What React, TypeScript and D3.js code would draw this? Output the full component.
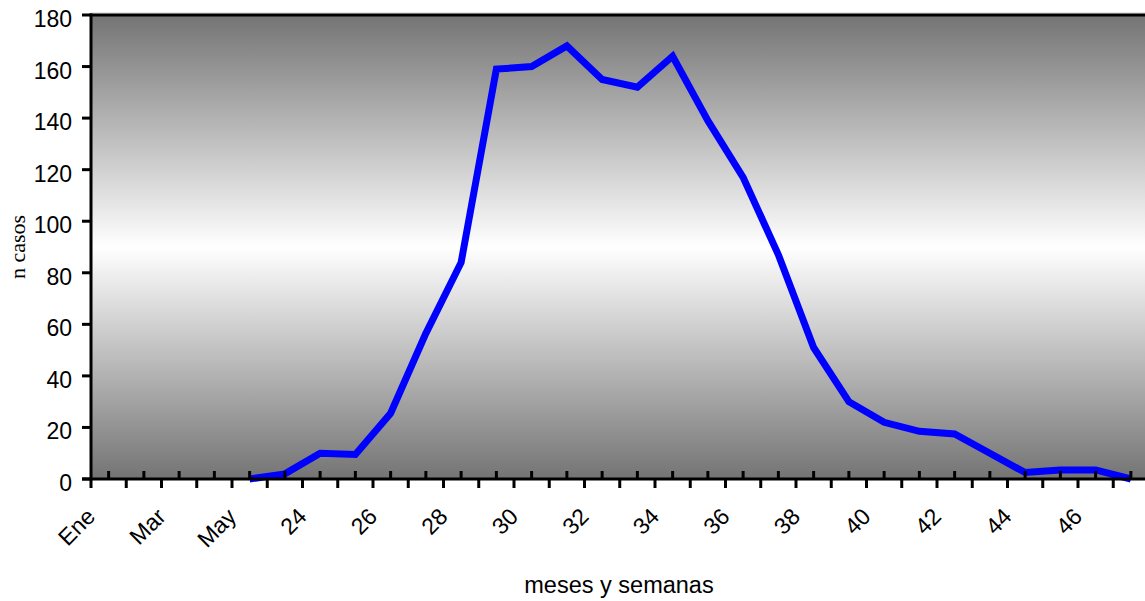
import React from "react";
import * as d3 from "d3";

const categories: string[] = [
  "Ene", "Feb", "Mar", "Abr", "May", "23", "24", "25", "26", "27",
  "28", "29", "30", "31", "32", "33", "34", "35", "36", "37",
  "38", "39", "40", "41", "42", "43", "44", "45", "46", "47",
];
const labelEvery: string[] = ["Ene", "Mar", "May", "24", "26", "28", "30", "32", "34", "36", "38", "40", "42", "44", "46"];
// null = no value in that category
const casos: (number | null)[] = [
  null, null, null, null, 0, 2, 10, 9.5, 25.5, 56.5,
  84, 159, 160, 168, 155, 152, 164, 139, 117, 87,
  51, 30, 22, 18.5, 17.5, 10, 2.5, 3.5, 3.5, 0,
];
const yTicks: number[] = [0, 20, 40, 60, 80, 100, 120, 140, 160, 180];

const W = 1145;
const H = 601;
const left = 91;
const top = 15;
const bottom = 479;
const step = 35.25;
const right = left + step * categories.length;

export default function App() {
  const x = d3.scaleBand<string>().domain(categories).range([left, right]).padding(0);
  const y = d3.scaleLinear().domain([0, 180]).range([bottom, top]);
  const cx = (c: string) => (x(c) as number) + x.bandwidth() / 2;

  const pts = categories
    .map((c, i) => ({ c, v: casos[i] }))
    .filter((d) => d.v !== null) as { c: string; v: number }[];
  const line = d3
    .line<{ c: string; v: number }>()
    .x((d) => cx(d.c))
    .y((d) => y(d.v));

  const font = "'Liberation Sans', Arial, sans-serif";

  return (
    <svg
      width={W}
      height={H}
      style={{ position: "fixed", left: 0, top: 0, background: "#fff" }}
    >
      <defs>
        <linearGradient id="bg" x1="0" y1="0" x2="0" y2="1">
          <stop offset="0" stopColor="#747474" />
          <stop offset="0.5" stopColor="#ffffff" />
          <stop offset="1" stopColor="#747474" />
        </linearGradient>
      </defs>
      <rect x={left} y={top} width={right - left} height={bottom - top} fill="url(#bg)" />
      {/* top border */}
      <line x1={left} x2={right} y1={top - 2} y2={top - 2} stroke="#cfcfcf" strokeWidth={1} />
      <line x1={left - 1.5} x2={right} y1={top} y2={top} stroke="#000" strokeWidth={3} />

      {/* data line */}
      <path
        d={line(pts) || ""}
        fill="none"
        stroke="#0000ff"
        strokeWidth={7}
        strokeLinejoin="miter"
        strokeMiterlimit={4}
      />

      {/* y axis */}
      <line x1={left} x2={left} y1={top - 1.5} y2={bottom + 1.5} stroke="#000" strokeWidth={3} />
      {yTicks.map((t) => (
        <g key={t}>
          <line x1={left - 9} x2={left} y1={y(t)} y2={y(t)} stroke="#000" strokeWidth={3} />
          <text
            x={72}
            y={y(t) + 12}
            textAnchor="end"
            fontFamily={font}
            fontSize={23}
            fill="#000"
          >
            {t}
          </text>
        </g>
      ))}

      {/* x axis */}
      <line x1={left - 9} x2={right} y1={bottom} y2={bottom} stroke="#000" strokeWidth={3} />
      {categories.map((c) => (
        <g key={c}>
          <line x1={x(c) as number} x2={x(c) as number} y1={bottom} y2={bottom + 9} stroke="#000" strokeWidth={3} />
          <line x1={cx(c)} x2={cx(c)} y1={bottom} y2={bottom - 8} stroke="#000" strokeWidth={3} />
        </g>
      ))}
      {categories
        .filter((c) => labelEvery.includes(c))
        .map((c) => {
          const ax = cx(c) - 12;
          const ay = 518;
          return (
            <text
              key={c}
              x={ax}
              y={ay}
              transform={`rotate(-45 ${ax} ${ay})`}
              textAnchor="end"
              fontFamily={font}
              fontSize={23}
              fill="#000"
            >
              {c}
            </text>
          );
        })}

      <text x={619} y={593} textAnchor="middle" fontFamily={font} fontSize={23.5} fill="#000">
        meses y semanas
      </text>
      <text
        x={25}
        y={247}
        transform="rotate(-90 25 247)"
        textAnchor="middle"
        fontFamily="'Liberation Serif', 'Times New Roman', serif"
        fontSize={22}
        fill="#000"
      >
        n casos
      </text>
    </svg>
  );
}
